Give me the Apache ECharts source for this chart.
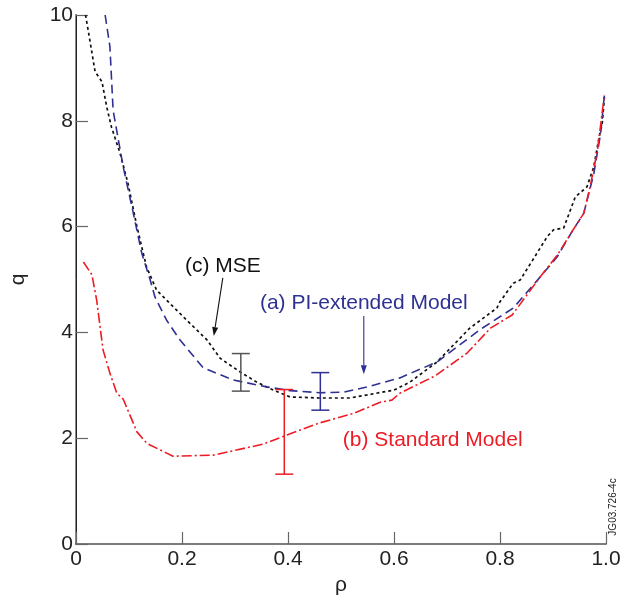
<!DOCTYPE html>
<html><head><meta charset="utf-8">
<script src="https://cdn.jsdelivr.net/npm/echarts@6/dist/echarts.min.js"></script>
<style>html,body{margin:0;padding:0;background:#fff}#c{width:622px;height:602px}</style>
</head><body><div id="c"></div>
<script>
const xTicks = [0, 0.2, 0.4, 0.6, 0.8, 1.0];
const yTicks = [0, 2, 4, 6, 8, 10];

const piX = [0.055,0.064,0.070,0.089,0.108,0.124,0.140,0.149,0.171,0.196,0.240,0.297,0.360,0.404,0.460,0.505,0.550,0.611,0.681,0.762,0.825,0.876,0.908,0.938,0.958,0.977,0.990,0.997];
const piQ = [10,9.4,8.2,7.13,6.26,5.5,4.99,4.67,4.23,3.86,3.33,3.10,2.97,2.90,2.86,2.87,2.97,3.14,3.44,4.05,4.46,5.05,5.43,5.94,6.25,7.0,7.77,8.49];

const mseX = [0.018,0.026,0.036,0.049,0.058,0.067,0.083,0.098,0.115,0.133,0.152,0.171,0.209,0.247,0.272,0.310,0.341,0.372,0.404,0.460,0.517,0.600,0.630,0.681,0.743,0.794,0.800,0.825,0.838,0.870,0.889,0.901,0.920,0.942,0.964,0.977,0.986,0.993,0.997];
const mseQ = [10,9.53,8.93,8.74,8.26,7.88,7.39,6.82,6.0,5.24,4.80,4.61,4.23,3.86,3.51,3.25,3.06,2.91,2.78,2.76,2.76,2.91,3.06,3.44,4.08,4.46,4.58,4.93,4.99,5.50,5.81,5.94,5.97,6.56,6.75,7.13,7.64,7.96,8.45];

const stdX = [0.014,0.030,0.039,0.051,0.064,0.077,0.089,0.115,0.134,0.183,0.259,0.354,0.398,0.460,0.524,0.574,0.596,0.611,0.678,0.738,0.782,0.823,0.876,0.908,0.938,0.958,0.970,0.984,0.997];
const stdQ = [5.33,5.09,4.61,3.67,3.23,2.85,2.74,2.12,1.90,1.66,1.68,1.89,2.06,2.29,2.47,2.68,2.72,2.85,3.18,3.61,4.08,4.33,5.05,5.46,5.94,6.25,6.75,7.45,8.49];

// error bars: MSE, Standard, PI-extended
const errX = [0.311, 0.393, 0.461];
const errLow = [2.89, 1.32, 2.53];
const errHigh = [3.60, 2.92, 3.24];

// annotation labels and arrows (data coordinates)
const labelText = ['(c) MSE', '(a) PI-extended Model', '(b) Standard Model'];
const labelX = [0.277, 0.543, 0.673];
const labelQ = [5.26, 4.56, 1.97];
const arrowX1 = [0.277, 0.543];
const arrowQ1 = [5.03, 4.31];
const arrowX2 = [0.260, 0.543];
const arrowQ2 = [3.93, 3.21];

const BLUE = '#2e3192', RED = '#ed1c24', BLACK = '#111111', GREY = '#555555';
const errColors = [GREY, RED, BLUE];
const labelColors = [BLACK, BLUE, RED];
const arrowColors = [BLACK, BLUE];
const FONT = '"Liberation Sans", Arial, Helvetica, sans-serif';

const zip = (a, b) => a.map((v, i) => [v, b[i]]);

const chart = echarts.init(document.getElementById('c'), null, {renderer: 'canvas'});
chart.setOption({
  animation: false,
  backgroundColor: '#fff',
  grid: {left: 76, right: 16, top: 15, bottom: 58, containLabel: false, outerBoundsMode: 'none'},
  xAxis: [{
    type: 'value', min: 0, max: 1, interval: 0.2, position: 'bottom',
    name: 'ρ', nameLocation: 'middle', nameGap: 25,
    nameTextStyle: {fontFamily: FONT, fontSize: 21, color: '#222'},
    axisLine: {show: true, lineStyle: {color: '#222', width: 1.5}},
    axisTick: {show: true, inside: true, length: 12, lineStyle: {color: '#666', width: 1.2}},
    axisLabel: {fontFamily: FONT, fontSize: 21, color: '#222', margin: 5,
      formatter: v => v === 0 ? '0' : v.toFixed(1)},
    splitLine: {show: false}
  }, {
    type: 'value', min: 0, max: 1, position: 'top',
    axisLine: {show: true, lineStyle: {color: '#888', width: 1.5}},
    axisTick: {show: false}, axisLabel: {show: false}, splitLine: {show: false}
  }],
  yAxis: [{
    type: 'value', min: 0, max: 10, interval: 2, position: 'left',
    name: 'q', nameLocation: 'middle', nameGap: 47, nameRotate: 90,
    nameTextStyle: {fontFamily: FONT, fontSize: 21, color: '#222'},
    axisLine: {show: true, lineStyle: {color: '#888', width: 2}},
    axisTick: {show: true, inside: true, length: 12, lineStyle: {color: '#666', width: 1.2}},
    axisLabel: {fontFamily: FONT, fontSize: 21, color: '#222', margin: 3},
    splitLine: {show: false}
  }, {
    type: 'value', min: 0, max: 10, position: 'right',
    axisLine: {show: true, lineStyle: {color: '#222', width: 1}},
    axisTick: {show: false}, axisLabel: {show: false}, splitLine: {show: false}
  }],
  series: [
    {type: 'line', name: 'MSE', data: zip(mseX, mseQ), showSymbol: false, symbol: 'none',
      lineStyle: {color: BLACK, width: 1.7, type: [3, 3]}, z: 3},
    {type: 'line', name: 'PI-extended', data: zip(piX, piQ), showSymbol: false, symbol: 'none',
      lineStyle: {color: BLUE, width: 1.6, type: [9, 5]}, z: 3},
    {type: 'line', name: 'Standard', data: zip(stdX, stdQ), showSymbol: false, symbol: 'none',
      lineStyle: {color: RED, width: 1.6, type: [10, 3, 2, 3]}, z: 3},
    {type: 'custom', name: 'errors',
      data: errX.map((x, i) => [x, errLow[i], errHigh[i], i]),
      renderItem: (params, api) => {
        const x = api.value(0), lo = api.value(1), hi = api.value(2), k = api.value(3);
        const pLo = api.coord([x, lo]), pHi = api.coord([x, hi]);
        const w = 9;
        const style = {stroke: errColors[k], lineWidth: 1.5, fill: null};
        return {type: 'group', children: [
          {type: 'line', shape: {x1: pLo[0], y1: pLo[1], x2: pHi[0], y2: pHi[1]}, style},
          {type: 'line', shape: {x1: pLo[0] - w, y1: pLo[1], x2: pLo[0] + w, y2: pLo[1]}, style},
          {type: 'line', shape: {x1: pHi[0] - w, y1: pHi[1], x2: pHi[0] + w, y2: pHi[1]}, style}
        ]};
      }, z: 4},
    {type: 'custom', name: 'arrows',
      data: arrowX1.map((x, i) => [x, arrowQ1[i], arrowX2[i], arrowQ2[i], i]),
      renderItem: (params, api) => {
        const k = api.value(4);
        const a = api.coord([api.value(0), api.value(1)]);
        const b = api.coord([api.value(2), api.value(3)]);
        const dx = b[0] - a[0], dy = b[1] - a[1];
        const L = Math.sqrt(dx * dx + dy * dy), ux = dx / L, uy = dy / L;
        const hl = 9, hw = 3;
        const bx = b[0] - ux * hl, by = b[1] - uy * hl;
        const c = arrowColors[k];
        return {type: 'group', children: [
          {type: 'line', shape: {x1: a[0], y1: a[1], x2: bx, y2: by}, style: {stroke: c, lineWidth: 1.1}},
          {type: 'polygon', shape: {points: [[b[0], b[1]], [bx - uy * hw, by + ux * hw], [bx + uy * hw, by - ux * hw]]},
            style: {fill: c}}
        ]};
      }, z: 5},
    {type: 'custom', name: 'labels',
      data: labelX.map((x, i) => [x, labelQ[i], i]),
      renderItem: (params, api) => {
        const k = api.value(2);
        const p = api.coord([api.value(0), api.value(1)]);
        return {type: 'text', x: p[0], y: p[1],
          style: {text: labelText[k], fill: labelColors[k], font: '21px ' + FONT,
            align: 'center', verticalAlign: 'middle'}};
      }, z: 6}
  ],
  graphic: [{
    type: 'text', x: 613, y: 507, rotation: Math.PI / 2,
    style: {text: 'JG03.726-4c', fill: '#222', font: '10px ' + FONT, align: 'center', verticalAlign: 'middle'}
  }]
});
</script>
</body></html>
